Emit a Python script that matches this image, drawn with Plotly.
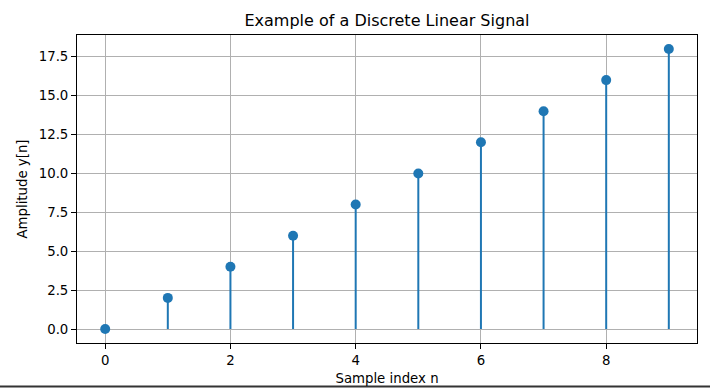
import plotly.graph_objects as go

n = [0, 1, 2, 3, 4, 5, 6, 7, 8, 9]
y = [0, 2, 4, 6, 8, 10, 12, 14, 16, 18]
y_ticks = [0.0, 2.5, 5.0, 7.5, 10.0, 12.5, 15.0, 17.5]
y_tick_text = ["0.0", "2.5", "5.0", "7.5", "10.0", "12.5", "15.0", "17.5"]
x_ticks = [0, 2, 4, 6, 8]

blue = "#1f77b4"
stem_x, stem_y = [], []
for xi, yi in zip(n, y):
    stem_x += [xi, xi, None]
    stem_y += [0, yi, None]

fig = go.Figure()
fig.add_trace(go.Scatter(x=stem_x, y=stem_y, mode="lines",
                         line=dict(color=blue, width=2), hoverinfo="skip", showlegend=False))
fig.add_trace(go.Scatter(x=n, y=y, mode="markers",
                         marker=dict(color=blue, size=10), showlegend=False))

font = "DejaVu Sans, sans-serif"
axis_common = dict(showline=True, linecolor="black", linewidth=1, mirror=True,
                   ticks="outside", ticklen=5, tickcolor="black", tickwidth=1,
                   showgrid=True, gridcolor="#b0b0b0", gridwidth=1, zeroline=False,
                   automargin=False,
                   tickfont=dict(family=font, size=13.3, color="black"))
fig.update_layout(
    width=710, height=388,
    margin=dict(l=77, r=13, t=35, b=45, autoexpand=False),
    paper_bgcolor="white", plot_bgcolor="white",
    title=dict(text="Example of a Discrete Linear Signal", x=(77 + 310) / 710, xanchor="center",
               y=1 - 20 / 388, yanchor="middle", automargin=False,
               font=dict(family=font, size=16, color="black")),
    xaxis=dict(range=[-0.45, 9.45], tickvals=x_ticks,
               title=dict(text="Sample index n", font=dict(family=font, size=13.3, color="black"), standoff=6),
               **axis_common),
    yaxis=dict(range=[-0.9, 18.9], tickvals=y_ticks, ticktext=y_tick_text,
               title=dict(text="Amplitude y[n]", font=dict(family=font, size=13.3, color="black"), standoff=8),
               **axis_common),
    shapes=[dict(type="line", xref="paper", yref="paper",
                 x0=-77 / 620, x1=1 + 13 / 620, y0=-43.5 / 308, y1=-43.5 / 308,
                 line=dict(color="#333333", width=2))],
)
fig.write_html("out.html", config={"displayModeBar": False},
               post_script="document.body.style.margin='0';document.body.style.overflow='hidden';")
